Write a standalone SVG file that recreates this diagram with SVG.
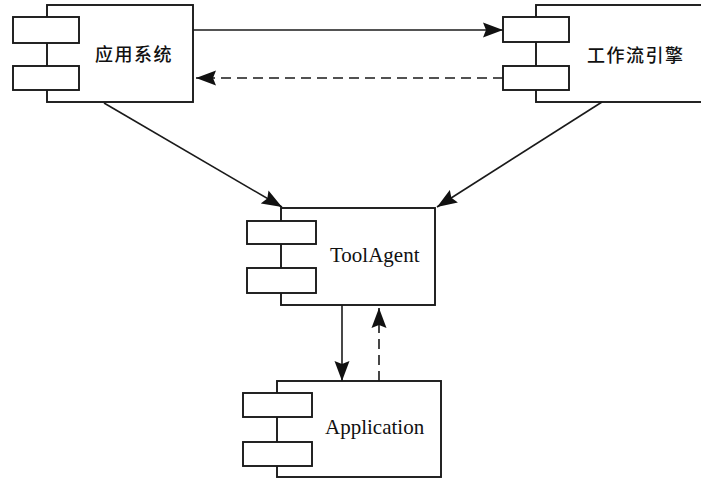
<svg xmlns="http://www.w3.org/2000/svg" width="701" height="479" viewBox="0 0 701 479">
<style>
  .main { fill: #ffffff; stroke: #1a1a1a; stroke-width: 1.9; }
  .port { fill: #ffffff; stroke: #1a1a1a; stroke-width: 1.9; }
  .cjk { font-family: "Noto Sans CJK SC", "Noto Sans", sans-serif; font-size: 18px; font-weight: 500; fill: #111; letter-spacing: 1.5px; }
  .lat { font-family: "Liberation Serif", "DejaVu Serif", serif; font-size: 21px; fill: #111; }
  .edge { fill: none; stroke: #1a1a1a; stroke-width: 1.6; }
  .dash { stroke-dasharray: 10 6; }
</style>
<defs>
  <marker id="arrow" viewBox="0 0 20 16" refX="20" refY="8" markerWidth="20" markerHeight="16" markerUnits="userSpaceOnUse" orient="auto">
    <path d="M0,0.5 L20,8 L0,15.5 L3,8 z" fill="#111"/>
  </marker>
</defs>
<rect width="701" height="479" fill="#ffffff"/>
<g id="node-app-system">
  <rect class="main" x="47" y="5" width="146" height="97"/>
  <rect class="port" x="13" y="17" width="66" height="26"/>
  <rect class="port" x="13" y="66" width="66" height="24"/>
  <text class="cjk" x="134" y="61" text-anchor="middle">应用系统</text>
</g>
<g id="node-workflow-engine">
  <rect class="main" x="536" y="5" width="170" height="97"/>
  <rect class="port" x="503" y="17" width="66" height="25"/>
  <rect class="port" x="503" y="66" width="66" height="24"/>
  <text class="cjk" x="587" y="62">工作流引擎</text>
</g>
<g id="node-toolagent">
  <rect class="main" x="281" y="208" width="154" height="97"/>
  <rect class="port" x="247" y="221" width="69" height="23"/>
  <rect class="port" x="247" y="268" width="69" height="25"/>
  <text class="lat" x="330" y="262">ToolAgent</text>
</g>
<g id="node-application">
  <rect class="main" x="277" y="381" width="164" height="96"/>
  <rect class="port" x="243" y="393" width="69" height="24"/>
  <rect class="port" x="243" y="442" width="69" height="24"/>
  <text class="lat" x="325" y="434">Application</text>
</g>
<g id="connectors">
  <line class="edge" x1="193" y1="30" x2="503" y2="30" marker-end="url(#arrow)"/>
  <line class="edge dash" x1="503" y1="78" x2="196" y2="78" marker-end="url(#arrow)"/>
  <line class="edge" x1="104" y1="103" x2="282" y2="207" marker-end="url(#arrow)"/>
  <line class="edge" x1="602" y1="102" x2="437" y2="207" marker-end="url(#arrow)"/>
  <line class="edge" x1="342" y1="305" x2="342" y2="381" marker-end="url(#arrow)"/>
  <line class="edge dash" x1="379" y1="381" x2="379" y2="308" marker-end="url(#arrow)"/>
</g>
</svg>
